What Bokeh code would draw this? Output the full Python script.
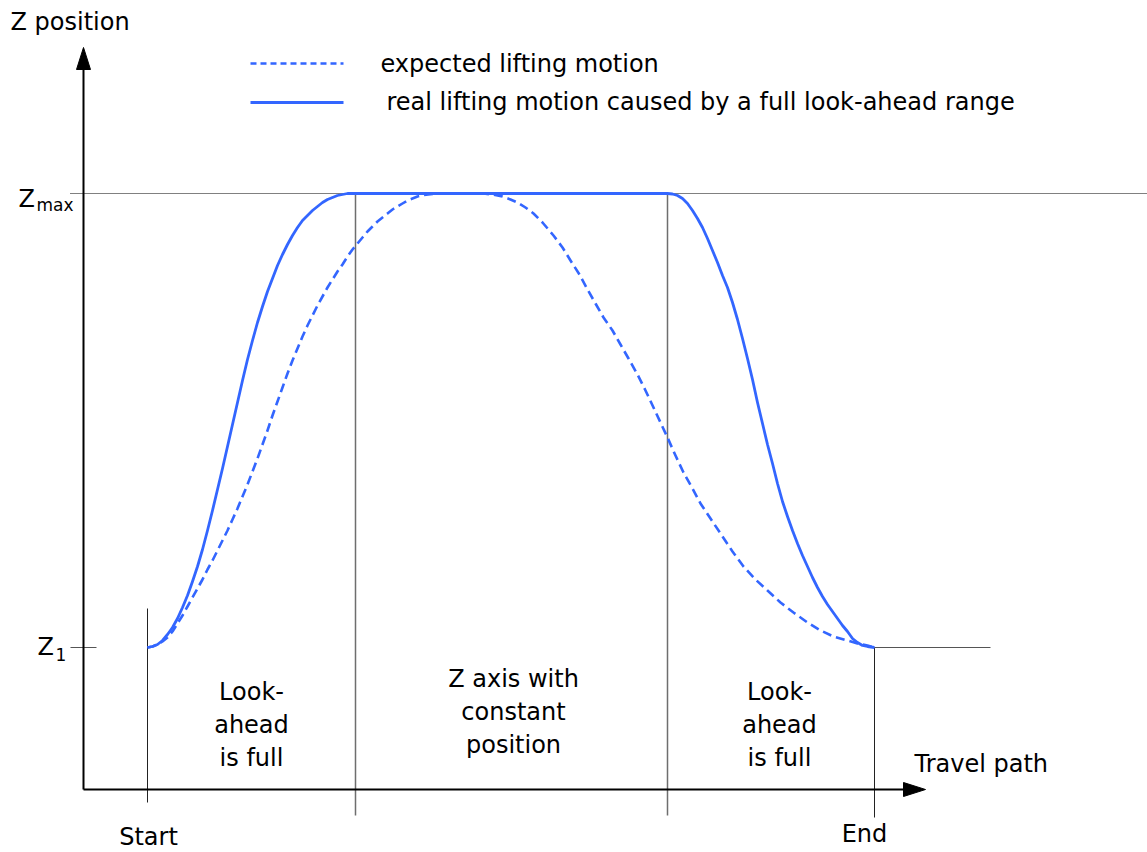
from bokeh.plotting import figure
from bokeh.models import Range1d
from bokeh.core.properties import value
from bokeh.embed import file_html
from bokeh.resources import INLINE

# ---- data (travel path x, lift z; arbitrary units, Start = 0, Z1 = 0) ----
x_start, x_end = 0, 727
x_const_start, x_const_end = 208, 520
z1, zmax = 0, 454

real_x = [0, 5, 10, 15, 20, 25, 30, 35, 40, 45, 50, 55, 60, 65, 70, 75, 80, 85, 90,
          95, 100, 105, 110, 115, 120, 125, 130, 135, 140, 145, 150, 155, 160, 165,
          170, 175, 180, 185, 190, 195, 200, 208,
          520, 525, 530, 535, 540, 545, 550, 555, 560, 565, 570, 575, 580, 585, 590,
          595, 600, 605, 610, 615, 620, 625, 630, 635, 640, 645, 650, 655, 660, 665,
          670, 675, 680, 685, 690, 695, 700, 705, 710, 715, 720, 727]
real_z = [0, 1, 3, 7, 13, 20, 29, 40, 52, 66, 81, 98, 117, 137, 158, 179, 201, 223, 245,
          267, 288, 307, 325, 341, 356, 369, 382, 393, 403, 412, 420, 427, 432, 437,
          441, 445, 448, 450, 452, 453, 454, 454,
          454, 453.5, 452, 449, 444, 437, 429, 420, 409, 397, 385, 372, 360, 345, 328,
          309, 289, 268, 245, 224, 203, 184, 164, 146, 131, 117, 104, 92, 81, 70,
          60, 51, 43, 36, 29, 22, 16, 9, 5, 2, 1, 0]

exp_x = [0, 5, 10, 15, 20, 25, 30, 35, 40, 45, 50, 55, 60, 65, 70, 75, 80, 85, 90, 95,
         100, 105, 110, 115, 120, 125, 130, 135, 140, 145, 150, 155, 160, 165, 170,
         175, 180, 185, 190, 195, 200, 205, 210, 215, 220, 225, 230, 235, 240, 245,
         250, 255, 260, 265, 270, 276, 285, 295, 305, 320, 336, 345, 355, 363, 370,
         378, 386, 395, 406, 415, 423, 432, 440, 448, 456, 465, 473, 481, 490, 498,
         506, 513, 520, 528, 536, 545, 553, 563, 573, 585, 596, 608, 620, 633, 646,
         660, 673, 686, 700, 710, 720, 727]
exp_z = [0, 1, 3, 6, 10, 16, 24, 32, 41, 50, 59, 68, 78, 87, 97, 107, 117, 128, 139, 151,
         163, 176, 189, 203, 217, 232, 246, 260, 274, 287, 299, 311, 322, 332, 342,
         351, 360, 368, 376, 383, 391, 398, 404, 410, 416, 421, 426, 430, 434, 438,
         441, 444, 447, 449, 451, 452.5, 453.5, 454, 454, 454, 454, 453, 451, 448, 445,
         440, 434, 425, 412, 400, 387, 373, 358, 344, 330, 317, 303, 289, 273, 257,
         240, 225, 210, 192, 175, 159, 144, 129, 114, 96, 81, 68, 57, 45, 35,
         25, 17, 11, 7, 4, 2, 0]

legend_labels = ["expected lifting motion",
                 "real lifting motion caused by a full look-ahead range"]
region_left = ["Look-", "ahead", "is full"]
region_mid = ["Z axis with", "constant", "position"]
region_right = ["Look-", "ahead", "is full"]

# ---- layout constants ----
BLUE = "#3366ff"
FONT = value("DejaVu Sans")
axis_x = -64          # vertical axis position
axis_z = -142         # horizontal axis position
y_axis_top = 600
x_axis_right = 778
head_len, head_half = 22, 7
dy = 9                # text baseline correction

p = figure(width=1147, height=852, output_backend="svg", toolbar_location=None,
           x_range=Range1d(-147, 1000), y_range=Range1d(-205, 647),
           min_border=0, background_fill_color="white", border_fill_color="white")
p.axis.visible = False
p.grid.visible = False
p.outline_line_color = None

# Zmax dotted reference line
p.segment(x0=[-77], y0=[zmax], x1=[1000], y1=[zmax], line_color="black",
          line_width=1, line_dash="1 1")
# Z1 tick and level after End
p.segment(x0=[-77], y0=[z1], x1=[-51], y1=[z1], line_color="#555555", line_width=1)
p.segment(x0=[x_end], y0=[z1], x1=[843], y1=[z1], line_color="#555555", line_width=1)

# vertical markers
p.segment(x0=[x_start], y0=[39], x1=[x_start], y1=[-155], line_color="#222222", line_width=1)
p.segment(x0=[x_end], y0=[z1], x1=[x_end], y1=[-170], line_color="#222222", line_width=1)
p.segment(x0=[x_const_start, x_const_end], y0=[zmax, zmax],
          x1=[x_const_start, x_const_end], y1=[-168, -168],
          line_color="#6e6e6e", line_width=1.5)

# axes with arrow heads
p.segment(x0=[axis_x], y0=[axis_z], x1=[axis_x], y1=[y_axis_top - head_len],
          line_color="black", line_width=2)
p.segment(x0=[axis_x], y0=[axis_z], x1=[x_axis_right - head_len], y1=[axis_z],
          line_color="black", line_width=2)
p.patch(x=[axis_x - head_half, axis_x, axis_x + head_half],
        y=[y_axis_top - head_len, y_axis_top, y_axis_top - head_len],
        fill_color="black", line_color="black")
p.patch(x=[x_axis_right - head_len, x_axis_right, x_axis_right - head_len],
        y=[axis_z + head_half, axis_z, axis_z - head_half],
        fill_color="black", line_color="black")

# curves
p.line(exp_x, exp_z, line_color=BLUE, line_width=2.6, line_dash="9 5",
       line_join="round")
p.line(real_x, real_z, line_color=BLUE, line_width=2.8, line_join="round")

# legend
p.segment(x0=[103], y0=[584], x1=[196], y1=[584], line_color=BLUE, line_width=2.6,
          line_dash="6 4")
p.segment(x0=[103], y0=[545], x1=[196], y1=[545], line_color=BLUE, line_width=2.8)
p.text(x=[233, 239], y=[575 + dy, 537 + dy], text=legend_labels, text_font=FONT,
       text_font_size="24px", text_align="left", text_baseline="alphabetic",
       text_color="black")

# axis titles
p.text(x=[-137], y=[617 + dy], text=["Z position"], text_font=FONT, text_font_size="24px",
       text_align="left", text_baseline="alphabetic", text_color="black")
p.text(x=[767], y=[-125 + dy], text=["Travel path"], text_font=FONT, text_font_size="24px",
       text_align="left", text_baseline="alphabetic", text_color="black")
p.text(x=[x_start + 1, x_end - 10], y=[-198 + dy, -195 + dy], text=["Start", "End"],
       text_font=FONT, text_font_size="24px", text_align="center",
       text_baseline="alphabetic", text_color="black")

# Zmax / Z1 labels
p.text(x=[-129, -110], y=[440 + dy, -8 + dy], text=["Z", "Z"], text_font=FONT,
       text_font_size="24px", text_align="left", text_baseline="alphabetic",
       text_color="black")
p.text(x=[-111, -92], y=[434 + dy, -16 + dy], text=["max", "1"], text_font=FONT,
       text_font_size="17px", text_align="left", text_baseline="alphabetic",
       text_color="black")

# region texts
base = [-53 + dy, -86 + dy, -119 + dy]
p.text(x=[104] * 3, y=base, text=region_left, text_font=FONT, text_font_size="24px",
       text_align="center", text_baseline="alphabetic", text_color="black")
p.text(x=[366] * 3, y=[-40 + dy, -73 + dy, -106 + dy], text=region_mid, text_font=FONT,
       text_font_size="24px", text_align="center", text_baseline="alphabetic",
       text_color="black")
p.text(x=[632] * 3, y=base, text=region_right, text_font=FONT, text_font_size="24px",
       text_align="center", text_baseline="alphabetic", text_color="black")

open("out.html", "w").write(file_html(p, INLINE))
